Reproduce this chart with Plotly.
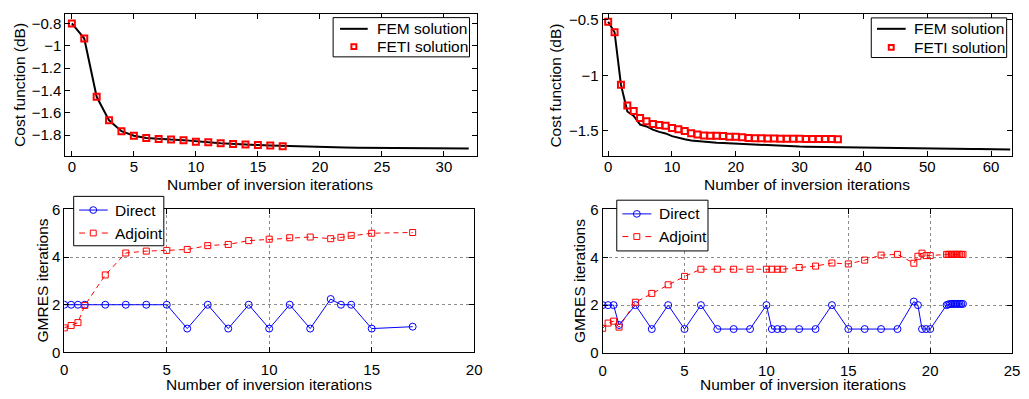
import plotly.graph_objects as go

# ---------------- data ----------------
# Top-left: cost function
tl_fem_x = list(range(0, 33))
tl_fem_y = [-0.80, -0.935, -1.457, -1.668, -1.765, -1.805, -1.825, -1.834, -1.840, -1.845,
            -1.858, -1.865, -1.873, -1.880, -1.885, -1.889, -1.894, -1.898, -1.902, -1.905,
            -1.908, -1.910, -1.912, -1.913, -1.914, -1.915, -1.916, -1.917, -1.918, -1.918,
            -1.919, -1.919, -1.920]
tl_feti_x = list(range(0, 18))
tl_feti_y = [-0.80, -0.935, -1.457, -1.668, -1.765, -1.805, -1.825, -1.834, -1.840, -1.845,
             -1.860, -1.865, -1.874, -1.880, -1.885, -1.888, -1.894, -1.900]

# Top-right: cost function
tr_fem_x = list(range(0, 64))
tr_fem_y = [-0.517, -0.612, -1.084, -1.325, -1.365, -1.443, -1.460, -1.489, -1.509, -1.523,
            -1.547, -1.564, -1.575, -1.586, -1.592, -1.601, -1.603, -1.607, -1.609, -1.612,
            -1.618, -1.620, -1.622, -1.625, -1.627, -1.629, -1.632, -1.634, -1.636, -1.638,
            -1.641, -1.642, -1.643, -1.644, -1.645, -1.646, -1.647, -1.648, -1.649, -1.649,
            -1.650, -1.651, -1.652, -1.653, -1.654, -1.655, -1.656, -1.657, -1.658, -1.658,
            -1.659, -1.660, -1.660, -1.661, -1.662, -1.662, -1.663, -1.664, -1.664, -1.665,
            -1.665, -1.666, -1.666, -1.667]
tr_feti_x = list(range(0, 37))
tr_feti_y = [-0.517, -0.612, -1.084, -1.271, -1.322, -1.385, -1.414, -1.437, -1.448, -1.454,
             -1.474, -1.486, -1.500, -1.521, -1.532, -1.541, -1.543, -1.543, -1.547, -1.552,
             -1.552, -1.558, -1.564, -1.566, -1.566, -1.569, -1.569, -1.570, -1.570, -1.571,
             -1.571, -1.572, -1.572, -1.573, -1.573, -1.574, -1.575]

# Bottom-left: GMRES iterations
bl_x = [0, 1/3, 2/3, 1, 2, 3, 4, 5, 6, 7, 8, 9, 10, 11, 12, 13, 13.5, 14, 15, 17]
bl_direct = [2, 2, 2, 2, 2, 2, 2, 2, 1, 2, 1, 2, 1, 2, 1, 2.24, 2, 2, 1, 1.08]
bl_adjoint = [1.03, 1.13, 1.25, 1.97, 3.25, 4.17, 4.25, 4.28, 4.32, 4.48, 4.53, 4.69, 4.75,
              4.81, 4.84, 4.77, 4.83, 4.91, 5.00, 5.03]

# Bottom-right: GMRES iterations
br_x = [0, 1/3, 2/3, 1, 2, 3, 4, 5, 6, 7, 8, 9, 10, 10 + 1/3, 10 + 2/3, 11, 12, 13, 14, 15,
        16, 17, 18, 19, 19.25, 19.5, 19.75, 20, 21, 21.1, 21.2, 21.3, 21.4, 21.5, 21.6, 21.7,
        21.8, 21.9, 22]
br_direct = [2, 2, 2, 1.17, 2, 1, 2, 1, 2, 1, 1, 1, 2, 1, 1, 1, 1, 1, 2, 1,
             1, 1, 1, 2.15, 2.0, 1, 1, 1, 2.0, 2.03, 2.04, 2.05, 2.05, 2.05, 2.05, 2.05,
             2.05, 2.05, 2.05]
br_adjoint = [1.03, 1.25, 1.33, 1.08, 2.12, 2.49, 2.85, 3.20, 3.50, 3.50, 3.50, 3.50, 3.50,
              3.50, 3.50, 3.50, 3.57, 3.63, 3.76, 3.72, 3.88, 4.09, 4.12, 3.75, 4.04, 4.17,
              4.07, 4.07, 4.12, 4.12, 4.12, 4.12, 4.12, 4.12, 4.12, 4.12, 4.12, 4.12, 4.12]

# tick labels
tl_xticks = [0, 5, 10, 15, 20, 25, 30]
tl_yticks = [-1.8, -1.6, -1.4, -1.2, -1.0, -0.8]
tl_yticktext = ["\u22121.8", "\u22121.6", "\u22121.4", "\u22121.2", "\u22121", "\u22120.8"]
tr_xticks = [0, 10, 20, 30, 40, 50, 60]
tr_yticks = [-1.5, -1.0, -0.5]
tr_yticktext = ["\u22121.5", "\u22121", "\u22120.5"]
bl_xticks = [0, 5, 10, 15, 20]
br_xticks = [0, 5, 10, 15, 20, 25]
b_yticks = [0, 2, 4, 6]

XLABEL = "Number of inversion iterations"
COST_LABEL = "Cost function (dB)"
GMRES_LABEL = "GMRES iterations"
COST_NAMES = ["FEM solution", "FETI solution"]
GMRES_NAMES = ["Direct", "Adjoint"]

# ---------------- figure ----------------
W, H = 1029, 399
FONT = "Liberation Sans, Arial, Helvetica, sans-serif"


def px(x):
    return x / W


def py(y):
    return 1 - y / H


fig = go.Figure()

fig.add_trace(go.Scatter(x=tl_fem_x, y=tl_fem_y, mode="lines", name=COST_NAMES[0],
                         line=dict(color="black", width=2), xaxis="x", yaxis="y"))
fig.add_trace(go.Scatter(x=tl_feti_x, y=tl_feti_y, mode="markers", name=COST_NAMES[1],
                         marker=dict(symbol="square-open", size=6, color="red",
                                     line=dict(color="red", width=2)),
                         xaxis="x", yaxis="y"))

fig.add_trace(go.Scatter(x=tr_fem_x, y=tr_fem_y, mode="lines", name=COST_NAMES[0],
                         line=dict(color="black", width=2), xaxis="x2", yaxis="y2"))
fig.add_trace(go.Scatter(x=tr_feti_x, y=tr_feti_y, mode="markers", name=COST_NAMES[1],
                         marker=dict(symbol="square-open", size=6, color="red",
                                     line=dict(color="red", width=2)),
                         xaxis="x2", yaxis="y2"))

fig.add_trace(go.Scatter(x=bl_x, y=bl_direct, mode="lines+markers", name=GMRES_NAMES[0],
                         line=dict(color="blue", width=1),
                         marker=dict(symbol="circle-open", size=7, color="blue",
                                     line=dict(color="blue", width=1)),
                         xaxis="x3", yaxis="y3"))
fig.add_trace(go.Scatter(x=bl_x, y=bl_adjoint, mode="lines+markers", name=GMRES_NAMES[1],
                         line=dict(color="red", width=1, dash="5px,4px"),
                         marker=dict(symbol="square-open", size=6, color="red",
                                     line=dict(color="red", width=1)),
                         xaxis="x3", yaxis="y3"))

fig.add_trace(go.Scatter(x=br_x, y=br_direct, mode="lines+markers", name=GMRES_NAMES[0],
                         line=dict(color="blue", width=1),
                         marker=dict(symbol="circle-open", size=7, color="blue",
                                     line=dict(color="blue", width=1)),
                         xaxis="x4", yaxis="y4"))
fig.add_trace(go.Scatter(x=br_x, y=br_adjoint, mode="lines+markers", name=GMRES_NAMES[1],
                         line=dict(color="red", width=1, dash="5px,4px"),
                         marker=dict(symbol="square-open", size=6, color="red",
                                     line=dict(color="red", width=1)),
                         xaxis="x4", yaxis="y4"))

axis_common = dict(showline=True, linecolor="black", linewidth=1, mirror="ticks",
                   ticks="inside", ticklen=5, tickcolor="black", tickwidth=1,
                   zeroline=False, tickfont=dict(size=15, color="black", family=FONT))
grid_on = dict(showgrid=True, gridcolor="rgba(0,0,0,0.45)", griddash="dot", gridwidth=1)
grid_off = dict(showgrid=False)

fig.update_layout(
    width=W, height=H,
    margin=dict(l=0, r=0, t=0, b=0),
    paper_bgcolor="white", plot_bgcolor="white",
    font=dict(family=FONT, size=15, color="black"),
    showlegend=False,
    xaxis=dict(domain=[px(62), px(479)], range=[-0.53, 32.7], tickvals=tl_xticks,
               anchor="y", ticklabelstandoff=-3, **axis_common, **grid_off),
    yaxis=dict(domain=[py(154), py(5)], range=[-1.991, -0.714],
               tickvals=tl_yticks, ticktext=tl_yticktext,
               anchor="x", **axis_common, **grid_off),
    xaxis2=dict(domain=[px(605.7), px(1020)], range=[-0.87, 63.3],
                tickvals=tr_xticks, anchor="y2", ticklabelstandoff=-3,
                **axis_common, **grid_off),
    yaxis2=dict(domain=[py(154), py(5)], range=[-1.730, -0.446],
                tickvals=tr_yticks, ticktext=tr_yticktext,
                anchor="x2", **axis_common, **grid_off),
    xaxis3=dict(domain=[px(61), px(475.7)], range=[0, 20], tickvals=bl_xticks,
                anchor="y3", ticklabelstandoff=4, **axis_common, **grid_on),
    yaxis3=dict(domain=[py(358.7), py(209.3)], range=[0, 6], tickvals=b_yticks,
                anchor="x3", **axis_common, **grid_on),
    xaxis4=dict(domain=[px(605.7), px(1020)], range=[0, 25], tickvals=br_xticks,
                anchor="y4", ticklabelstandoff=4, **axis_common, **grid_on),
    yaxis4=dict(domain=[py(359.3), py(209.3)], range=[0, 6], tickvals=b_yticks,
                anchor="x4", **axis_common, **grid_on),
)

# ---------------- axis titles ----------------
ann_font = dict(size=15.5, color="black", family=FONT)
annotations = [
    dict(text=XLABEL, x=px(269), y=py(183.5)),
    dict(text=XLABEL, x=px(812.7), y=py(183.5)),
    dict(text=XLABEL, x=px(268.3), y=py(392)),
    dict(text=XLABEL, x=px(808.8), y=py(392.5)),
    dict(text=COST_LABEL, x=px(15), y=py(79.5), textangle=-90),
    dict(text=COST_LABEL, x=px(558), y=py(79.5), textangle=-90),
    dict(text=GMRES_LABEL, x=px(39), y=py(284), textangle=-90),
    dict(text=GMRES_LABEL, x=px(581.7), y=py(284.3), textangle=-90),
]
for a in annotations:
    a.update(xref="paper", yref="paper", showarrow=False, xanchor="center",
             yanchor="middle", font=ann_font)

# ---------------- legends (drawn as boxes + samples + text) ----------------
shapes = []
leg_font = dict(size=15.5, color="black", family=FONT)


def box(x0, y0, x1, y1):
    shapes.append(dict(type="rect", xref="paper", yref="paper",
                       x0=px(x0), x1=px(x1), y0=py(y1), y1=py(y0),
                       line=dict(color="black", width=1), fillcolor="white", layer="above"))


def hline(x0, x1, y, color, width, dash="solid"):
    shapes.append(dict(type="line", xref="paper", yref="paper",
                       x0=px(x0), x1=px(x1), y0=py(y), y1=py(y),
                       line=dict(color=color, width=width, dash=dash), layer="above"))


def sq(cx, cy, half, color, width):
    shapes.append(dict(type="rect", xref="paper", yref="paper",
                       x0=px(cx - half), x1=px(cx + half), y0=py(cy + half), y1=py(cy - half),
                       line=dict(color=color, width=width), fillcolor="white", layer="above"))


def circ(cx, cy, r, color, width):
    shapes.append(dict(type="circle", xref="paper", yref="paper",
                       x0=px(cx - r), x1=px(cx + r), y0=py(cy + r), y1=py(cy - r),
                       line=dict(color=color, width=width), layer="above"))


def label(text, x, y):
    annotations.append(dict(text=text, x=px(x), y=py(y), xref="paper", yref="paper",
                            showarrow=False, xanchor="left", yanchor="middle", font=leg_font))


# top-left legend
box(333, 9, 471, 50)
hline(340, 368, 20.7, "black", 2)
sq(354, 39.3, 2.5, "red", 2)
label(COST_NAMES[0], 375, 20.7)
label(COST_NAMES[1], 375, 39.3)

# top-right legend
box(877.5, 9.3, 1014.5, 50.7)
hline(883.3, 912.3, 20.7, "black", 2)
sq(897.7, 40, 2.5, "red", 2)
label(COST_NAMES[0], 918.5, 20.7)
label(COST_NAMES[1], 918.5, 40)

# bottom-left legend
box(70.5, 195.7, 161.7, 247.3)
hline(76, 105, 210, "blue", 1)
circ(90.3, 210, 3.5, "blue", 1)
hline(76, 82, 234, "red", 1)
hline(99, 105, 234, "red", 1)
sq(90.3, 234, 3, "red", 1)
label(GMRES_NAMES[0], 110.5, 210)
label(GMRES_NAMES[1], 110.5, 234)

# bottom-right legend
box(620, 199.7, 712.3, 252.7)
hline(625.7, 655, 214, "blue", 1)
circ(640.3, 214, 3.5, "blue", 1)
hline(625.7, 631.7, 237.7, "red", 1)
hline(649, 655, 237.7, "red", 1)
sq(640.3, 237.7, 3, "red", 1)
label(GMRES_NAMES[0], 660.5, 214)
label(GMRES_NAMES[1], 660.5, 237.7)

fig.update_layout(annotations=annotations, shapes=shapes)

fig.write_html("out.html")
